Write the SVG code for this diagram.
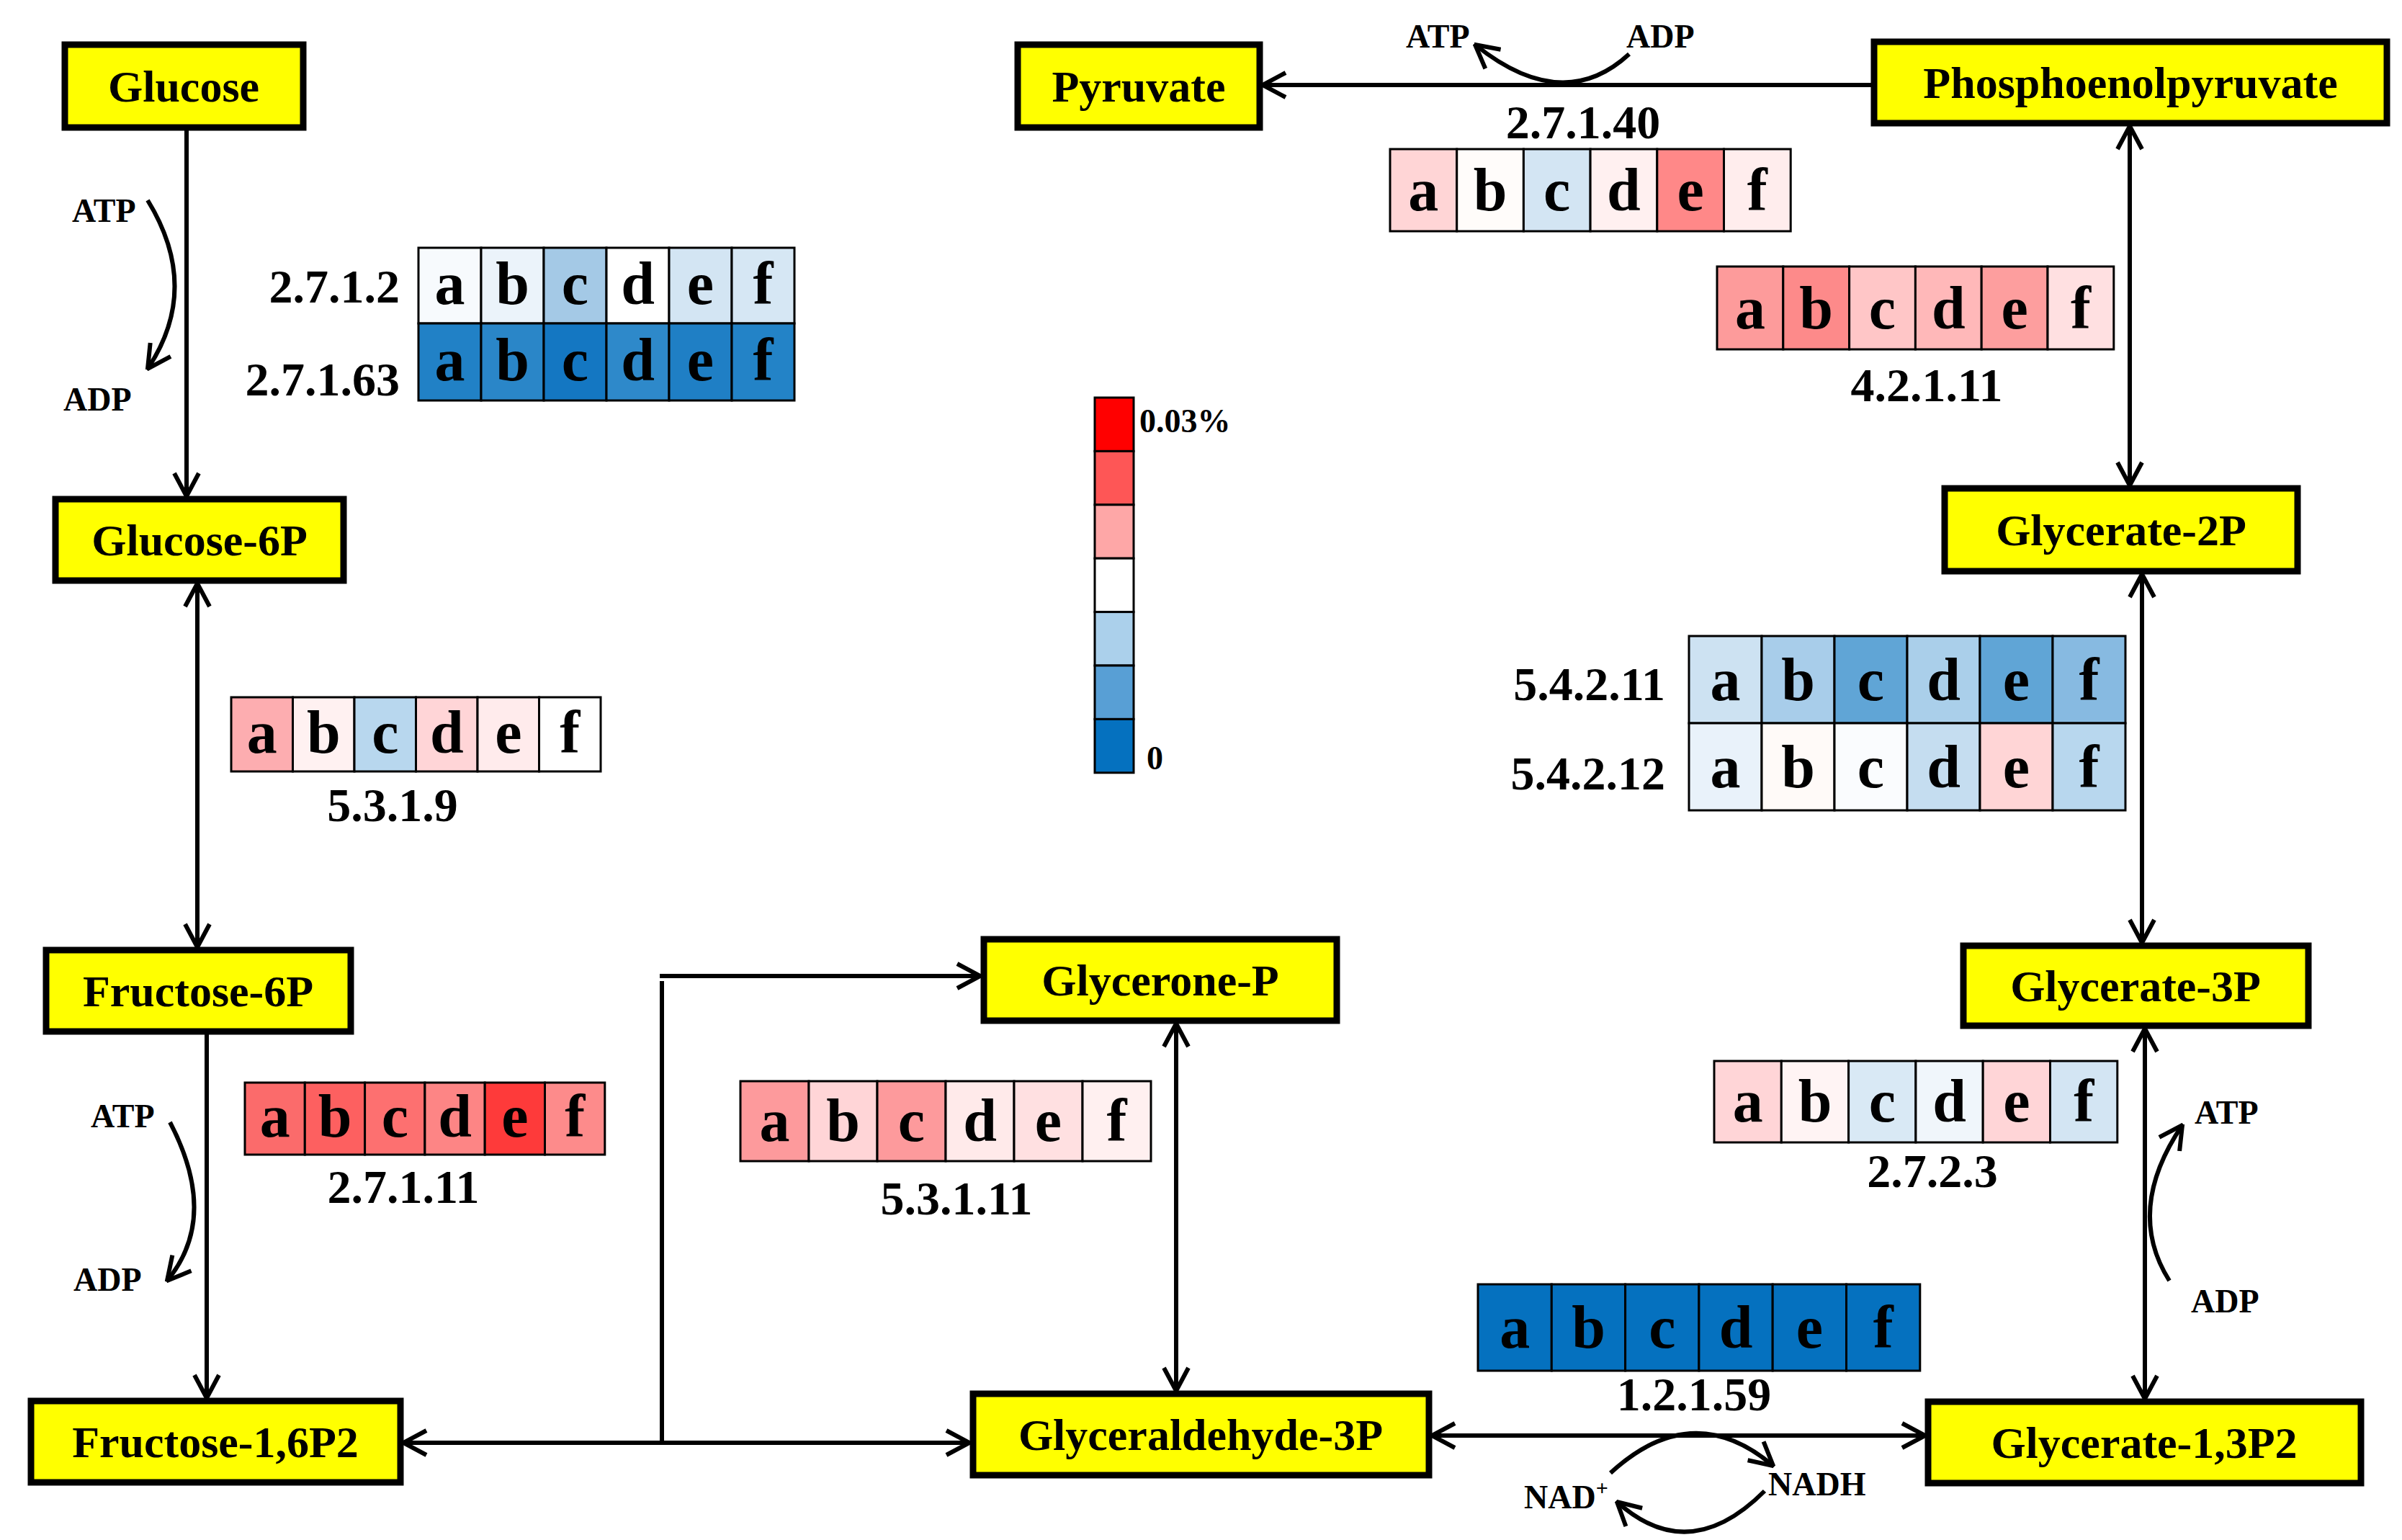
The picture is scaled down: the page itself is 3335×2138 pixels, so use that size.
<svg xmlns="http://www.w3.org/2000/svg" width="3335" height="2138" viewBox="0 0 3335 2138">
<style>
.node rect{fill:#ffff00;stroke:#000;stroke-width:9}
.node text{font-family:"Liberation Serif",serif;font-weight:bold;font-size:62px;text-anchor:middle}
.c line,.c path{stroke:#000;stroke-width:6;fill:none}
.hm rect{stroke:#000;stroke-width:3}
.hm text{font-family:"Liberation Serif",serif;font-weight:bold;font-size:84px;text-anchor:middle}
.ec{font-family:"Liberation Serif",serif;font-weight:bold;font-size:66px}
.sm{font-family:"Liberation Serif",serif;font-weight:bold;font-size:46px}
</style>
<defs>
<marker id="ar" viewBox="0 0 40 40" refX="38" refY="20" markerWidth="40" markerHeight="40" markerUnits="userSpaceOnUse" orient="auto-start-reverse">
<path d="M6,3 L38,20 L6,37" fill="none" stroke="#000" stroke-width="6"/>
</marker>
</defs>
<rect width="3335" height="2138" fill="#fff"/>

<g id="connectors" class="c">
<line x1="259" y1="177" x2="259" y2="689" marker-end="url(#ar)"/>
<path d="M205,278 Q280,400 205,512" marker-end="url(#ar)"/>
<line x1="274" y1="810" x2="274" y2="1315" marker-start="url(#ar)" marker-end="url(#ar)"/>
<line x1="287" y1="1432" x2="287" y2="1941" marker-end="url(#ar)"/>
<path d="M236,1558 Q305,1690 232,1778" marker-end="url(#ar)"/>
<line x1="560" y1="2003" x2="1346" y2="2003" marker-start="url(#ar)" marker-end="url(#ar)"/>
<line x1="919" y1="1362" x2="919" y2="2006"/>
<line x1="916" y1="1355" x2="1361" y2="1355" marker-end="url(#ar)"/>
<line x1="1633" y1="1421" x2="1633" y2="1931" marker-start="url(#ar)" marker-end="url(#ar)"/>
<line x1="1988" y1="1993" x2="2673" y2="1993" marker-start="url(#ar)" marker-end="url(#ar)"/>
<path d="M2236,2045 Q2350,1940 2462,2035" marker-end="url(#ar)"/>
<path d="M2450,2070 Q2345,2175 2245,2085" marker-end="url(#ar)"/>
<line x1="2978" y1="1428" x2="2978" y2="1942" marker-start="url(#ar)" marker-end="url(#ar)"/>
<path d="M3012,1778 Q2950,1680 3030,1562" marker-end="url(#ar)"/>
<line x1="2974" y1="797" x2="2974" y2="1309" marker-start="url(#ar)" marker-end="url(#ar)"/>
<line x1="2957" y1="175" x2="2957" y2="674" marker-start="url(#ar)" marker-end="url(#ar)"/>
<line x1="2598" y1="118" x2="1753" y2="118" marker-end="url(#ar)"/>
<path d="M2262,75 Q2170,160 2048,62" marker-end="url(#ar)"/>
</g>

<g id="cofactors">
<text class="sm" x="100" y="308">ATP</text>
<text class="sm" x="88" y="570">ADP</text>
<text class="sm" x="126" y="1565">ATP</text>
<text class="sm" x="102" y="1792">ADP</text>
<text class="sm" x="1952" y="66">ATP</text>
<text class="sm" x="2258" y="66">ADP</text>
<text class="sm" x="3047" y="1560">ATP</text>
<text class="sm" x="3042" y="1822">ADP</text>
<text class="sm" x="2116" y="2094">NAD<tspan font-size="30" dy="-18">+</tspan></text>
<text class="sm" x="2455" y="2076">NADH</text>
</g>

<g id="n-glucose" class="node"><rect x="90" y="62" width="331" height="115"/><text x="255" y="141">Glucose</text></g>
<g id="n-glucose6p" class="node"><rect x="77" y="693" width="400" height="113"/><text x="277" y="771">Glucose-6P</text></g>
<g id="n-fructose6p" class="node"><rect x="64" y="1319" width="423" height="113"/><text x="275" y="1397">Fructose-6P</text></g>
<g id="n-fructose16p2" class="node"><rect x="43" y="1945" width="513" height="113"/><text x="299" y="2023">Fructose-1,6P2</text></g>
<g id="n-glyceronep" class="node"><rect x="1366" y="1304" width="490" height="113"/><text x="1611" y="1382">Glycerone-P</text></g>
<g id="n-glyceraldehyde3p" class="node"><rect x="1351" y="1935" width="633" height="113"/><text x="1667" y="2013">Glyceraldehyde-3P</text></g>
<g id="n-glycerate13p2" class="node"><rect x="2677" y="1946" width="601" height="113"/><text x="2977" y="2024">Glycerate-1,3P2</text></g>
<g id="n-glycerate3p" class="node"><rect x="2726" y="1313" width="479" height="111"/><text x="2965" y="1390">Glycerate-3P</text></g>
<g id="n-glycerate2p" class="node"><rect x="2700" y="678" width="490" height="115"/><text x="2945" y="757">Glycerate-2P</text></g>
<g id="n-pep" class="node"><rect x="2602" y="58" width="712" height="113"/><text x="2958" y="136">Phosphoenolpyruvate</text></g>
<g id="n-pyruvate" class="node"><rect x="1413" y="62" width="336" height="115"/><text x="1581" y="141">Pyruvate</text></g>

<g id="hm-2712" class="hm">
<rect x="581" y="344" width="87" height="105" fill="#f7fafd"/><rect x="668" y="344" width="87" height="105" fill="#ebf3fa"/><rect x="755" y="344" width="87" height="105" fill="#a4c9e6"/><rect x="842" y="344" width="87" height="105" fill="#ffffff"/><rect x="929" y="344" width="87" height="105" fill="#d3e5f3"/><rect x="1016" y="344" width="87" height="105" fill="#d6e7f4"/>
<text x="624.5" y="422">a</text><text x="711.5" y="422">b</text><text x="798.5" y="422">c</text><text x="885.5" y="422">d</text><text x="972.5" y="422">e</text><text x="1059.5" y="422">f</text>
<rect x="581" y="449" width="87" height="107" fill="#2181c6"/><rect x="668" y="449" width="87" height="107" fill="#2a86c8"/><rect x="755" y="449" width="87" height="107" fill="#1477c2"/><rect x="842" y="449" width="87" height="107" fill="#2e89ca"/><rect x="929" y="449" width="87" height="107" fill="#1f7fc5"/><rect x="1016" y="449" width="87" height="107" fill="#2383c7"/>
<text x="624.5" y="528">a</text><text x="711.5" y="528">b</text><text x="798.5" y="528">c</text><text x="885.5" y="528">d</text><text x="972.5" y="528">e</text><text x="1059.5" y="528">f</text>
</g>
<text class="ec" x="555" y="420" text-anchor="end">2.7.1.2</text>
<text class="ec" x="555" y="549" text-anchor="end">2.7.1.63</text>

<g id="hm-5319" class="hm">
<rect x="321" y="968" width="85.5" height="103" fill="#fdadb0"/><rect x="406.5" y="968" width="85.5" height="103" fill="#fff1f1"/><rect x="492" y="968" width="85.5" height="103" fill="#b8d7ee"/><rect x="577.5" y="968" width="85.5" height="103" fill="#ffd5d7"/><rect x="663" y="968" width="85.5" height="103" fill="#ffebec"/><rect x="748.5" y="968" width="85.5" height="103" fill="#ffffff"/>
<text x="363.8" y="1045">a</text><text x="449.3" y="1045">b</text><text x="534.8" y="1045">c</text><text x="620.3" y="1045">d</text><text x="705.8" y="1045">e</text><text x="791.3" y="1045">f</text>
</g>
<text class="ec" x="545" y="1140" text-anchor="middle">5.3.1.9</text>

<g id="hm-27111" class="hm">
<rect x="340" y="1503" width="83.3" height="100" fill="#fb6b6b"/><rect x="423.3" y="1503" width="83.3" height="100" fill="#fd6060"/><rect x="506.6" y="1503" width="83.3" height="100" fill="#fd7070"/><rect x="589.9" y="1503" width="83.3" height="100" fill="#fd8585"/><rect x="673.2" y="1503" width="83.3" height="100" fill="#fe3a3a"/><rect x="756.5" y="1503" width="83.3" height="100" fill="#fd8b8b"/>
<text x="381.7" y="1578">a</text><text x="465" y="1578">b</text><text x="548.3" y="1578">c</text><text x="631.6" y="1578">d</text><text x="715" y="1578">e</text><text x="798.3" y="1578">f</text>
</g>
<text class="ec" x="560" y="1670" text-anchor="middle">2.7.1.11</text>

<g id="hm-53111" class="hm">
<rect x="1028" y="1501" width="95" height="111" fill="#fd9a9c"/><rect x="1123" y="1501" width="95" height="111" fill="#ffd5d7"/><rect x="1218" y="1501" width="95" height="111" fill="#fd9a9c"/><rect x="1313" y="1501" width="95" height="111" fill="#ffeaea"/><rect x="1408" y="1501" width="95" height="111" fill="#ffe0e1"/><rect x="1503" y="1501" width="95" height="111" fill="#fff0f0"/>
<text x="1075.5" y="1584">a</text><text x="1170.5" y="1584">b</text><text x="1265.5" y="1584">c</text><text x="1360.5" y="1584">d</text><text x="1455.5" y="1584">e</text><text x="1550.5" y="1584">f</text>
</g>
<text class="ec" x="1328" y="1686" text-anchor="middle">5.3.1.11</text>

<g id="hm-27140" class="hm">
<rect x="1930" y="207" width="92.7" height="114" fill="#ffd5d6"/><rect x="2022.7" y="207" width="92.7" height="114" fill="#fffcfa"/><rect x="2115.4" y="207" width="92.7" height="114" fill="#d3e5f3"/><rect x="2208.1" y="207" width="92.7" height="114" fill="#fff0f0"/><rect x="2300.8" y="207" width="92.7" height="114" fill="#ff8888"/><rect x="2393.5" y="207" width="92.7" height="114" fill="#ffeded"/>
<text x="1976.3" y="292">a</text><text x="2069" y="292">b</text><text x="2161.7" y="292">c</text><text x="2254.4" y="292">d</text><text x="2347.1" y="292">e</text><text x="2439.8" y="292">f</text>
</g>
<text class="ec" x="2198" y="192" text-anchor="middle">2.7.1.40</text>

<g id="hm-42111" class="hm">
<rect x="2384" y="370" width="91.8" height="115" fill="#fd9b9b"/><rect x="2475.8" y="370" width="91.8" height="115" fill="#fd8a8a"/><rect x="2567.6" y="370" width="91.8" height="115" fill="#ffc6c7"/><rect x="2659.4" y="370" width="91.8" height="115" fill="#ffb8b9"/><rect x="2751.2" y="370" width="91.8" height="115" fill="#fd9e9e"/><rect x="2843" y="370" width="91.8" height="115" fill="#ffe0e1"/>
<text x="2429.9" y="456">a</text><text x="2521.7" y="456">b</text><text x="2613.5" y="456">c</text><text x="2705.3" y="456">d</text><text x="2797.1" y="456">e</text><text x="2888.9" y="456">f</text>
</g>
<text class="ec" x="2675" y="557" text-anchor="middle">4.2.1.11</text>

<g id="hm-542" class="hm">
<rect x="2345" y="883" width="101" height="121" fill="#cde2f2"/><rect x="2446" y="883" width="101" height="121" fill="#a8cdea"/><rect x="2547" y="883" width="101" height="121" fill="#60a5d6"/><rect x="2648" y="883" width="101" height="121" fill="#aacfea"/><rect x="2749" y="883" width="101" height="121" fill="#60a5d6"/><rect x="2850" y="883" width="101" height="121" fill="#87bae1"/>
<text x="2395.5" y="972">a</text><text x="2496.5" y="972">b</text><text x="2597.5" y="972">c</text><text x="2698.5" y="972">d</text><text x="2799.5" y="972">e</text><text x="2900.5" y="972">f</text>
<rect x="2345" y="1004" width="101" height="121" fill="#e9f2fa"/><rect x="2446" y="1004" width="101" height="121" fill="#fffaf8"/><rect x="2547" y="1004" width="101" height="121" fill="#fafcfe"/><rect x="2648" y="1004" width="101" height="121" fill="#c5ddf0"/><rect x="2749" y="1004" width="101" height="121" fill="#ffd5d6"/><rect x="2850" y="1004" width="101" height="121" fill="#b8d7ee"/>
<text x="2395.5" y="1093">a</text><text x="2496.5" y="1093">b</text><text x="2597.5" y="1093">c</text><text x="2698.5" y="1093">d</text><text x="2799.5" y="1093">e</text><text x="2900.5" y="1093">f</text>
</g>
<text class="ec" x="2312" y="972" text-anchor="end">5.4.2.11</text>
<text class="ec" x="2312" y="1096" text-anchor="end">5.4.2.12</text>

<g id="hm-2723" class="hm">
<rect x="2380" y="1473" width="93.3" height="113" fill="#ffd5d7"/><rect x="2473.3" y="1473" width="93.3" height="113" fill="#fff4f4"/><rect x="2566.6" y="1473" width="93.3" height="113" fill="#d9e9f5"/><rect x="2659.9" y="1473" width="93.3" height="113" fill="#f0f6fb"/><rect x="2753.2" y="1473" width="93.3" height="113" fill="#ffd5d7"/><rect x="2846.5" y="1473" width="93.3" height="113" fill="#d3e5f3"/>
<text x="2426.7" y="1557">a</text><text x="2520" y="1557">b</text><text x="2613.3" y="1557">c</text><text x="2706.6" y="1557">d</text><text x="2799.9" y="1557">e</text><text x="2893.2" y="1557">f</text>
</g>
<text class="ec" x="2683" y="1648" text-anchor="middle">2.7.2.3</text>

<g id="hm-12159" class="hm">
<rect x="2052" y="1783" width="102.3" height="120" fill="#0571bf"/><rect x="2154.3" y="1783" width="102.3" height="120" fill="#0571bf"/><rect x="2256.6" y="1783" width="102.3" height="120" fill="#0571bf"/><rect x="2358.9" y="1783" width="102.3" height="120" fill="#0571bf"/><rect x="2461.2" y="1783" width="102.3" height="120" fill="#0571bf"/><rect x="2563.5" y="1783" width="102.3" height="120" fill="#0571bf"/>
<text x="2103.2" y="1871">a</text><text x="2205.5" y="1871">b</text><text x="2307.8" y="1871">c</text><text x="2410.1" y="1871">d</text><text x="2512.4" y="1871">e</text><text x="2614.7" y="1871">f</text>
</g>
<text class="ec" x="2352" y="1958" text-anchor="middle">1.2.1.59</text>

<g id="legend" class="hm">
<rect x="1520" y="552" width="54" height="74.4" fill="#ff0000"/>
<rect x="1520" y="626.4" width="54" height="74.4" fill="#fe5656"/>
<rect x="1520" y="700.8" width="54" height="74.4" fill="#fea7a7"/>
<rect x="1520" y="775.2" width="54" height="74.4" fill="#ffffff"/>
<rect x="1520" y="849.6" width="54" height="74.4" fill="#abd0eb"/>
<rect x="1520" y="924" width="54" height="74.4" fill="#589fd5"/>
<rect x="1520" y="998.4" width="54" height="74.4" fill="#0571bf"/>
</g>
<text class="sm" x="1582" y="600">0.03%</text>
<text class="sm" x="1592" y="1068">0</text>
</svg>
